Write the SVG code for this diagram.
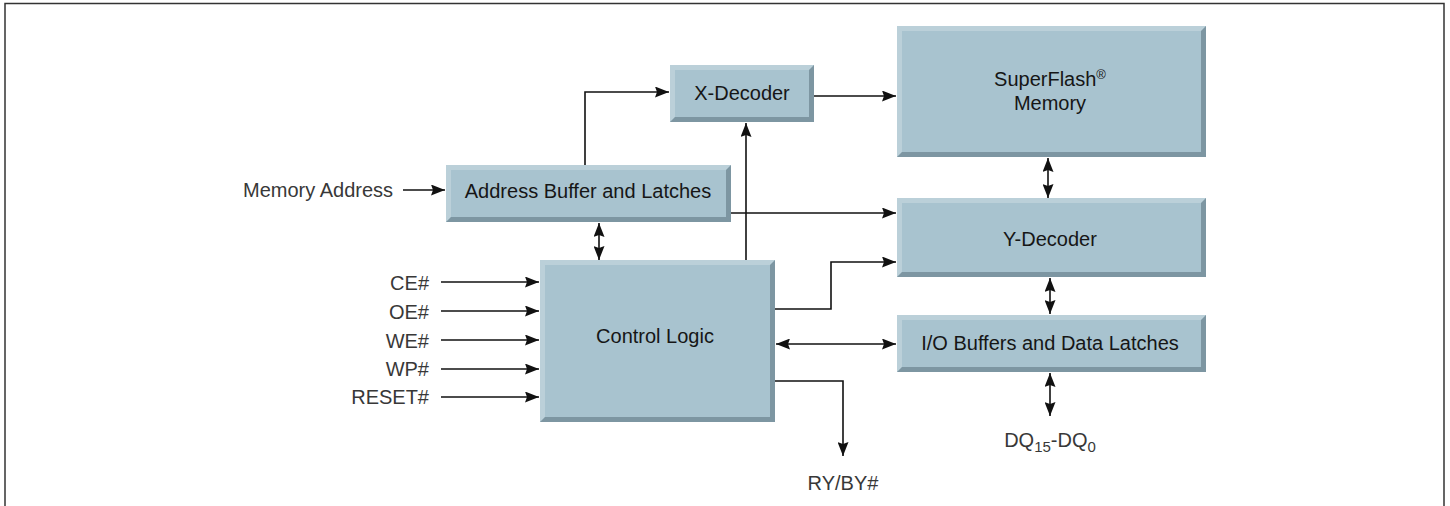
<svg xmlns="http://www.w3.org/2000/svg" width="1450" height="506" viewBox="0 0 1450 506">
<style>
.frame{fill:none;stroke:#333;stroke-width:1.5}
.face{fill:#a8c3cf}
.hi{fill:#bbd0d9}
.sh{fill:#7d96a2}
.t{font-family:"Liberation Sans",Arial,sans-serif;font-size:20px;fill:#161616;text-anchor:middle}
.lbl{font-family:"Liberation Sans",Arial,sans-serif;font-size:20px;fill:#383838}
.ln{fill:none;stroke:#111;stroke-width:1.6}
</style>
<defs>
<marker id="ah" viewBox="0 0 14 11" refX="14" refY="5.5" markerWidth="14" markerHeight="11" markerUnits="userSpaceOnUse" orient="auto-start-reverse">
<path d="M0,0 L14,5.5 L0,11 L2,5.5 Z" fill="#111"/>
</marker>
</defs>
<rect width="1450" height="506" fill="#fff"/>
<path class="frame" d="M5,510 L5,3.5 L1444,3.5 L1444,510"/>

<g id="x-decoder">
<rect class="face" x="670" y="65" width="144" height="57"/>
<polygon class="hi" points="670,65 814,65 809,70 675,70 675,117 670,122"/>
<polygon class="sh" points="814,65 814,122 670,122 675,117 809,117 809,70"/>
<text class="t" x="742" y="100">X-Decoder</text>
</g>

<g id="superflash">
<rect class="face" x="897" y="26" width="309" height="131"/>
<polygon class="hi" points="897,26 1206,26 1201,31 902,31 902,152 897,157"/>
<polygon class="sh" points="1206,26 1206,157 897,157 902,152 1201,152 1201,31"/>
<text class="t" x="1050" y="86">SuperFlash<tspan font-size="13" dy="-7">®</tspan></text>
<text class="t" x="1050" y="110">Memory</text>
</g>

<g id="address-buffer">
<rect class="face" x="446" y="165" width="285" height="57"/>
<polygon class="hi" points="446,165 731,165 726,170 451,170 451,217 446,222"/>
<polygon class="sh" points="731,165 731,222 446,222 451,217 726,217 726,170"/>
<text class="t" x="588" y="198">Address Buffer and Latches</text>
</g>

<g id="y-decoder">
<rect class="face" x="897" y="198" width="309" height="79"/>
<polygon class="hi" points="897,198 1206,198 1201,203 902,203 902,272 897,277"/>
<polygon class="sh" points="1206,198 1206,277 897,277 902,272 1201,272 1201,203"/>
<text class="t" x="1050" y="246">Y-Decoder</text>
</g>

<g id="io-buffers">
<rect class="face" x="897" y="315" width="309" height="57"/>
<polygon class="hi" points="897,315 1206,315 1201,320 902,320 902,367 897,372"/>
<polygon class="sh" points="1206,315 1206,372 897,372 902,367 1201,367 1201,320"/>
<text class="t" x="1050" y="350">I/O Buffers and Data Latches</text>
</g>

<g id="control-logic">
<rect class="face" x="540" y="260" width="235" height="162"/>
<polygon class="hi" points="540,260 775,260 770,265 545,265 545,417 540,422"/>
<polygon class="sh" points="775,260 775,422 540,422 545,417 770,417 770,265"/>
<text class="t" x="655" y="343">Control Logic</text>
</g>

<g id="labels">
<text class="lbl" x="243" y="197">Memory Address</text>
<text class="lbl" x="429" y="290" text-anchor="end">CE#</text>
<text class="lbl" x="429" y="319" text-anchor="end">OE#</text>
<text class="lbl" x="429" y="348" text-anchor="end">WE#</text>
<text class="lbl" x="429" y="376" text-anchor="end">WP#</text>
<text class="lbl" x="429" y="404" text-anchor="end">RESET#</text>
<text class="lbl" x="1050" y="447" text-anchor="middle">DQ<tspan font-size="15" dy="5">15</tspan><tspan dy="-5">-DQ</tspan><tspan font-size="15" dy="5">0</tspan></text>
<text class="lbl" x="843" y="490" text-anchor="middle">RY/BY#</text>
</g>

<g id="connectors">
<line class="ln" x1="403" y1="190" x2="445" y2="190" marker-end="url(#ah)"/>
<polyline class="ln" points="585,165 585,92 669,92" marker-end="url(#ah)"/>
<line class="ln" x1="731" y1="213" x2="896" y2="213" marker-end="url(#ah)"/>
<line class="ln" x1="599" y1="223" x2="599" y2="260" marker-start="url(#ah)" marker-end="url(#ah)"/>
<line class="ln" x1="746" y1="260" x2="746" y2="123" marker-end="url(#ah)"/>
<line class="ln" x1="814" y1="96" x2="896" y2="96" marker-end="url(#ah)"/>
<line class="ln" x1="1048" y1="158" x2="1048" y2="198" marker-start="url(#ah)" marker-end="url(#ah)"/>
<polyline class="ln" points="775,309 831,309 831,262 896,262" marker-end="url(#ah)"/>
<line class="ln" x1="776" y1="344" x2="896" y2="344" marker-start="url(#ah)" marker-end="url(#ah)"/>
<line class="ln" x1="1050" y1="278" x2="1050" y2="314" marker-start="url(#ah)" marker-end="url(#ah)"/>
<line class="ln" x1="1050" y1="373" x2="1050" y2="416" marker-start="url(#ah)" marker-end="url(#ah)"/>
<polyline class="ln" points="775,381 843,381 843,456" marker-end="url(#ah)"/>
<line class="ln" x1="441" y1="282" x2="539" y2="282" marker-end="url(#ah)"/>
<line class="ln" x1="441" y1="311" x2="539" y2="311" marker-end="url(#ah)"/>
<line class="ln" x1="441" y1="340" x2="539" y2="340" marker-end="url(#ah)"/>
<line class="ln" x1="441" y1="369" x2="539" y2="369" marker-end="url(#ah)"/>
<line class="ln" x1="441" y1="397" x2="539" y2="397" marker-end="url(#ah)"/>
</g>
</svg>
